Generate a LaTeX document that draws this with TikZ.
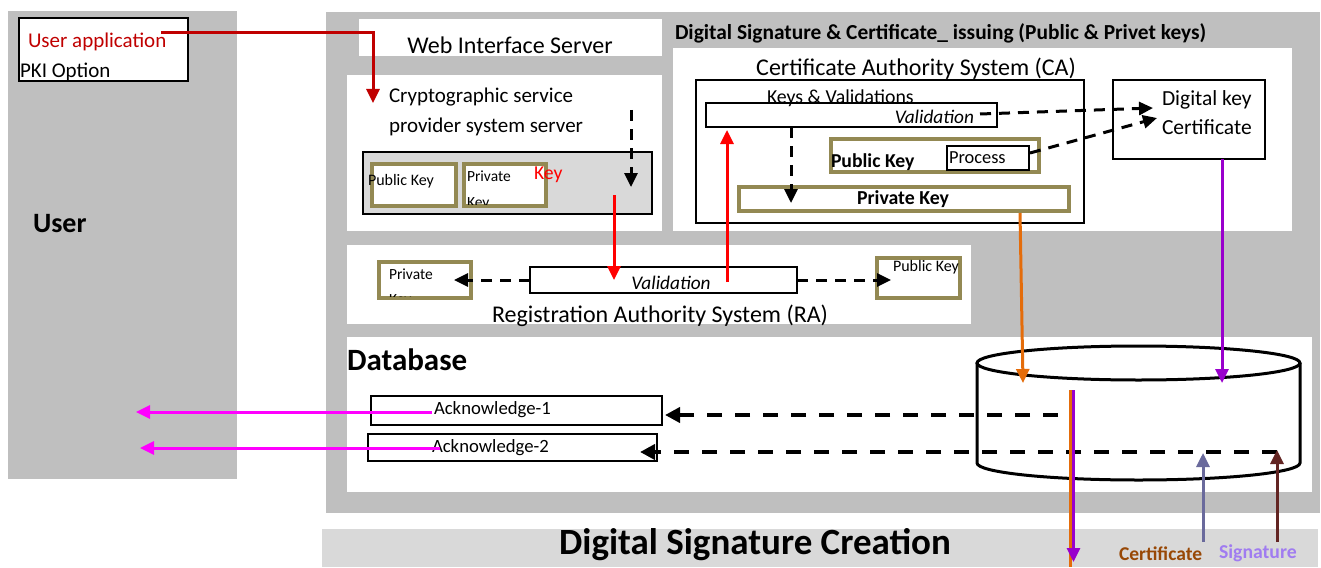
\documentclass[tikz,border=0pt]{standalone}
\usepackage{fontspec}
\setmainfont{Carlito}
\usetikzlibrary{arrows.meta,calc}
\definecolor{panelgray}{HTML}{BFBFBF}
\definecolor{bandgray}{HTML}{D9D9D9}
\definecolor{olivec}{HTML}{938953}
\definecolor{darkredc}{HTML}{C00000}
\definecolor{redc}{HTML}{FF0000}
\definecolor{orangec}{HTML}{E46C0A}
\definecolor{purplec}{HTML}{9900CC}
\definecolor{magentac}{HTML}{FF00FF}
\definecolor{slatec}{HTML}{6A6A9C}
\definecolor{brownc}{HTML}{632523}
\definecolor{certtext}{HTML}{984806}
\definecolor{sigtext}{HTML}{A07CF0}
\newcommand\myfs[2]{\fontsize{#1}{#2}\selectfont}
\newcommand\rbox[6]{\node[#1, anchor=north west, minimum width={#4-#2}, minimum height={#5-#3}] (#6) at (#2,#3) {};}
\begin{document}
\begin{tikzpicture}[x=1pt,y=-1pt,
  panel/.style={fill=panelgray, draw=none, inner sep=0, outer sep=0},
  bandp/.style={fill=bandgray, draw=none, inner sep=0, outer sep=0},
  whitep/.style={fill=white, draw=none, inner sep=0, outer sep=0},
  bbox/.style={draw=black, line width=2pt, fill=white, inner sep=0, outer sep=0},
  obox/.style={draw=olivec, line width=4pt, fill=white, inner sep=0, outer sep=0},
  txt/.style={inner sep=0, outer sep=0, anchor=west},
  btxt/.style={inner sep=0, outer sep=0, anchor=base west},
  ctxt/.style={inner sep=0, outer sep=0},
  arr/.style={line width=3pt, -{Triangle[length=14pt,width=13pt]}},
  dsh/.style={arr, black, dash pattern=on 11pt off 8pt},
  dshdb/.style={line width=4pt, -{Triangle[length=15pt,width=15pt]}, black, dash pattern=on 15pt off 13pt}]
\useasboundingbox (0,0) rectangle (1321,567);
% panels
\rbox{panel}{8}{11}{237}{479}{userpanel}
\rbox{panel}{326}{12}{1320}{513}{mainpanel}
\rbox{bandp}{322}{529}{1318}{567}{bandpanel}
\rbox{whitep}{359}{19}{662}{56}{webpanel}
\rbox{whitep}{347}{75}{662}{231}{csppanel}
\rbox{whitep}{673}{48}{1292}{231}{capanel}
\rbox{whitep}{347}{245}{971}{324}{rapanel}
\rbox{whitep}{347}{337}{1312}{492}{dbpanel}
% boxes
\rbox{bbox}{19}{18}{188}{81}{userapp}
\rbox{bbox, fill=bandgray}{363}{152}{652}{214}{cspbox}
\rbox{obox}{372}{164}{456}{206}{cspPub}
\rbox{obox}{464}{164}{546}{206}{cspPriv}
\rbox{bbox}{696}{80}{1084}{223}{cabox}
\rbox{bbox}{706}{103}{997}{127}{caVal}
\rbox{obox}{831}{139}{1039}{172}{caPub}
\rbox{bbox}{947}{146}{1029}{170}{caProc}
\rbox{obox}{739}{187}{1069}{211}{caPriv}
\rbox{bbox}{1113}{80}{1265}{159}{dkbox}
\rbox{obox}{379}{262}{471}{298}{raPriv}
\rbox{bbox}{530}{267}{797}{293}{raVal}
\rbox{obox}{877}{258}{960}{298}{raPub}
\rbox{bbox}{371}{396}{662}{425}{ack1}
\rbox{bbox}{368}{434}{657}{461}{ack2}
% database cylinder
\draw[line width=3pt, fill=white] (977,363) -- (977,463) arc[start angle=180, end angle=0, x radius=161.5, y radius=17] -- (1300,363);
\draw[line width=3pt] (1138.5,363) ellipse[x radius=161.5, y radius=17];
\coordinate (db) at (1138.5,413);
% texts
\node[txt, text=darkredc, font=\myfs{21}{25}] (tUA) at (28,42) {User application};
\node[txt, font=\myfs{21}{25}] (tPKI) at (20,72) {PKI Option};
\node[txt, font=\bfseries\myfs{28}{32}] (tUser) at (33,224) {User};
\node[ctxt, font=\myfs{24}{28}] (tWeb) at (510,45) {Web Interface Server};
\node[txt, align=left, font=\myfs{21}{30}] (tCSP) at (389,112) {Cryptographic service\\provider system server};
\node[txt, font=\myfs{16}{19}] (tCspPub) at (368,181) {Public Key};
\begin{scope}
\clip (466,166) rectangle (544,204);
\node[btxt, font=\myfs{15.5}{19}] (tCspPriv) at (467,181) {Private};
\node[btxt, font=\myfs{15.5}{19}] (tCspPriv2) at (467,207) {Key};
\end{scope}
\node[txt, text=redc, font=\myfs{19.7}{24}] (tKey) at (534,175) {Key};
\node[txt, font=\bfseries\myfs{21.4}{25}] (tTitle) at (675,33) {Digital Signature \& Certificate\_ issuing (Public \& Privet keys)};
\node[ctxt, font=\myfs{24}{28}] (tCA) at (916,69) {Certificate Authority System (CA)};
\node[txt, font=\myfs{19.8}{24}] (tKV) at (767,98) {Keys \& Validations};
\node[ctxt, anchor=east, font=\itshape\myfs{19.3}{23}] (tCaVal) at (974,117) {Validation};
\node[txt, font=\bfseries\myfs{19.7}{24}] (tCaPub) at (831,162) {Public Key};
\node[txt, font=\myfs{18.4}{22}] (tProc) at (949,158) {Process};
\node[ctxt, font=\bfseries\myfs{19.8}{24}] (tCaPriv) at (903,199) {Private Key};
\node[txt, align=left, font=\myfs{21.5}{29}] (tDK) at (1162,113) {Digital key\\Certificate};
\begin{scope}
\clip (381,264) rectangle (469,296);
\node[btxt, font=\myfs{15.5}{19}] (tRaPriv) at (389,279) {Private};
\node[btxt, font=\myfs{15.5}{19}] (tRaPriv2) at (389,304) {Key};
\end{scope}
\node[ctxt, font=\itshape\myfs{19.3}{23}] (tRaVal) at (671,283) {Validation};
\node[txt, font=\myfs{16}{19}] (tRaPub) at (893,267) {Public Key};
\node[ctxt, font=\myfs{24}{28}] (tRA) at (660,316) {Registration Authority System (RA)};
\node[txt, font=\bfseries\myfs{31}{36}] (tDB) at (347,360) {Database};
\node[txt, font=\myfs{18.7}{22}] (tAck1) at (434,410) {Acknowledge-1};
\node[txt, font=\myfs{18.7}{22}] (tAck2) at (432,448) {Acknowledge-2};
\node[ctxt, font=\bfseries\myfs{37}{42}] (tDSC) at (755,545) {Digital Signature Creation};
\node[txt, text=certtext, font=\bfseries\myfs{19.5}{23}] (tCert) at (1119,554) {Certificate};
\node[txt, text=sigtext, font=\bfseries\myfs{19.7}{23}] (tSig) at (1219,553) {Signature};
% connectors
\coordinate (uaOut) at (161,33);
\coordinate (cspIn) at (373,103);
\draw[arr, darkredc] (uaOut) -| (cspIn);
\coordinate (cspDashTop) at (631,110);
\coordinate (cspDashEnd) at (631,187);
\draw[dsh] (cspDashTop) -- (cspDashEnd);
\coordinate (cspOut) at (614,195);
\coordinate (raValIn) at (614,280);
\draw[arr, redc] (cspOut) -- (raValIn);
\coordinate (raValOut) at (727,282);
\coordinate (caValIn) at (727,130);
\draw[arr, redc] (raValOut) -- (caValIn);
\coordinate (raPrivIn) at (454,280);
\draw[dsh] (raVal.west) -- (raPrivIn);
\coordinate (raPubIn) at (891,280);
\draw[dsh] (raVal.east) -- (raPubIn);
\coordinate (caValOut) at (980,114);
\coordinate (dkIn1) at (1153,108);
\draw[dsh] (caValOut) -- (dkIn1);
\coordinate (caProcOut) at (1030,153);
\coordinate (dkIn2) at (1157,118);
\draw[dsh] (caProcOut) -- (dkIn2);
\coordinate (caValDown) at (791,127);
\coordinate (caPrivIn) at (791,203);
\draw[dsh] (caValDown) -- (caPrivIn);
\coordinate (caPrivOut) at (1020,213);
\coordinate (dbIn1) at (1023,383);
\draw[arr, orangec] (caPrivOut) -- (dbIn1);
\coordinate (dkOut) at (1222,159);
\coordinate (dbIn2) at (1222,383);
\draw[arr, purplec] (dkOut) -- (dbIn2);
\coordinate (dbOut1) at (1058,415);
\coordinate (ack1In) at (665,415);
\draw[dshdb] (dbOut1) -- (ack1In);
\coordinate (dbOut2) at (1277,452);
\coordinate (ack2In) at (640,452);
\draw[dshdb] (dbOut2) -- (ack2In);
\coordinate (ack1Out) at (432,412);
\coordinate (user1In) at (136,412);
\draw[arr, magentac] (ack1Out) -- (user1In);
\coordinate (ack2Out) at (440,448);
\coordinate (user2In) at (140,448);
\draw[arr, magentac] (ack2Out) -- (user2In);
\coordinate (dbBotA) at (1070,390);
\coordinate (bandBotA) at (1070,567);
\draw[line width=3pt, orangec] (dbBotA) -- (bandBotA);
\coordinate (dbBotB) at (1073.5,390);
\coordinate (bandBotB) at (1073.5,562);
\draw[arr, purplec] (dbBotB) -- (bandBotB);
\coordinate (certOut) at (1203,542);
\coordinate (dbCertIn) at (1203,453);
\draw[arr, slatec] (certOut) -- (dbCertIn);
\coordinate (sigOut) at (1277,542);
\coordinate (dbSigIn) at (1277,450);
\draw[arr, brownc] (sigOut) -- (dbSigIn);
\end{tikzpicture}
\end{document}
